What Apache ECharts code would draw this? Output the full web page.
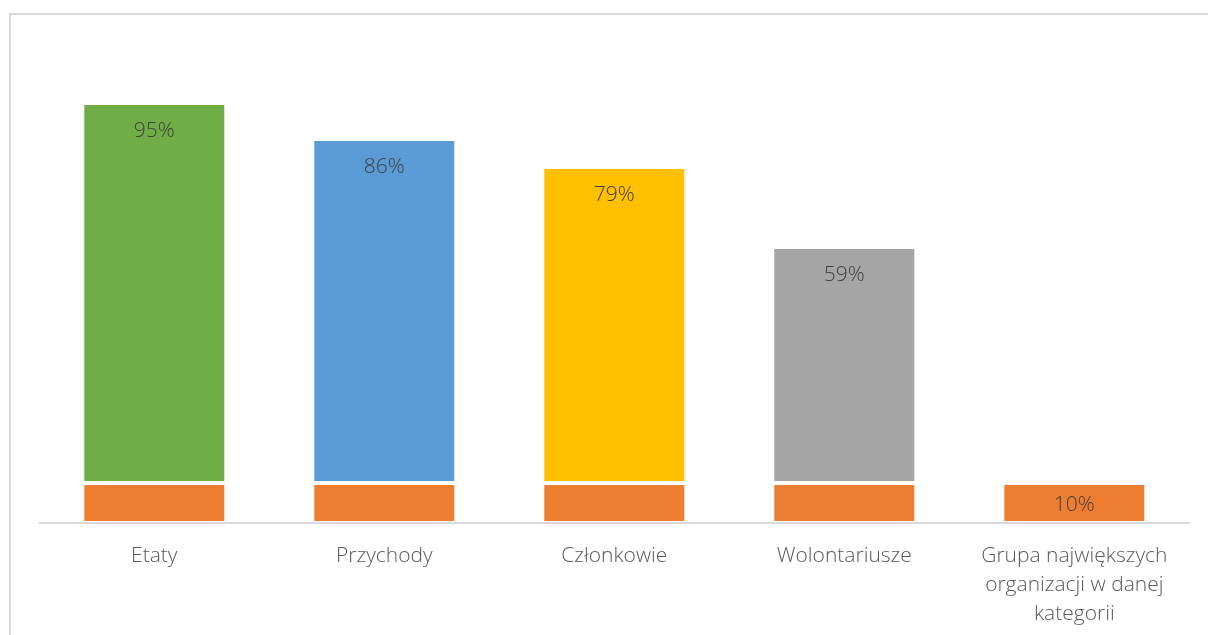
<!DOCTYPE html>
<html>
<head>
<meta charset="utf-8">
<script src="https://cdn.jsdelivr.net/npm/echarts@6/dist/echarts.min.js"></script>
<style>
html,body{margin:0;padding:0;background:#fff;}
#c{width:1208px;height:635px;}
</style>
</head>
<body>
<div id="c"></div>
<script>
const categories = ['Etaty', 'Przychody', 'Członkowie', 'Wolontariusze', 'Grupa największych\norganizacji w danej\nkategorii'];
const baseValues = [10, 10, 10, 10, 10];
const topValues = [95, 86, 79, 59, null];
const topColors = ['#70AD47', '#5B9BD5', '#FFC000', '#A5A5A5', '#A5A5A5'];
const baseColor = '#ED7D31';

const FONT = '"Open Sans", "Noto Sans", sans-serif';

const chart = echarts.init(document.getElementById('c'), null, {renderer: 'canvas'});
chart.setOption({
  animation: false,
  backgroundColor: '#ffffff',
  graphic: [{
    type: 'rect',
    shape: {x: 10, y: 14, width: 1220, height: 660},
    style: {fill: 'none', stroke: '#d9d9d9', lineWidth: 2},
    z: -10, silent: true
  }],
  grid: {left: 39.3, right: 18.7, top: 43, bottom: 112},
  xAxis: {
    type: 'category',
    data: categories,
    z: 10,
    axisLine: {lineStyle: {color: '#d9d9d9', width: 2}},
    axisTick: {show: false},
    axisLabel: {
      color: '#595959', fontSize: 21, fontFamily: FONT, fontWeight: 300,
      lineHeight: 29, margin: 19, interval: 0
    }
  },
  yAxis: {
    type: 'value', min: 0, max: 120, show: false,
    splitLine: {show: false}
  },
  series: [
    {
      name: 'base', type: 'bar', stack: 's', barWidth: 144,
      data: baseValues.map((v, i) => ({
        value: v,
        label: {show: i === baseValues.length - 1}
      })),
      itemStyle: {color: baseColor, borderColor: '#ffffff', borderWidth: 2},
      label: {
        position: 'inside', offset: [0, 2], formatter: '{c}%', color: '#404040',
        fontSize: 21, fontFamily: FONT, fontWeight: 300
      }
    },
    {
      name: 'top', type: 'bar', stack: 's', barWidth: 144,
      data: topValues.map((v, i) => ({
        value: v,
        itemStyle: {color: topColors[i]}
      })),
      itemStyle: {borderColor: '#ffffff', borderWidth: 2},
      label: {
        show: true, position: 'insideTop', distance: 18, formatter: '{c}%', color: '#404040',
        fontSize: 21, fontFamily: FONT, fontWeight: 300
      }
    }
  ]
});
</script>
</body>
</html>
